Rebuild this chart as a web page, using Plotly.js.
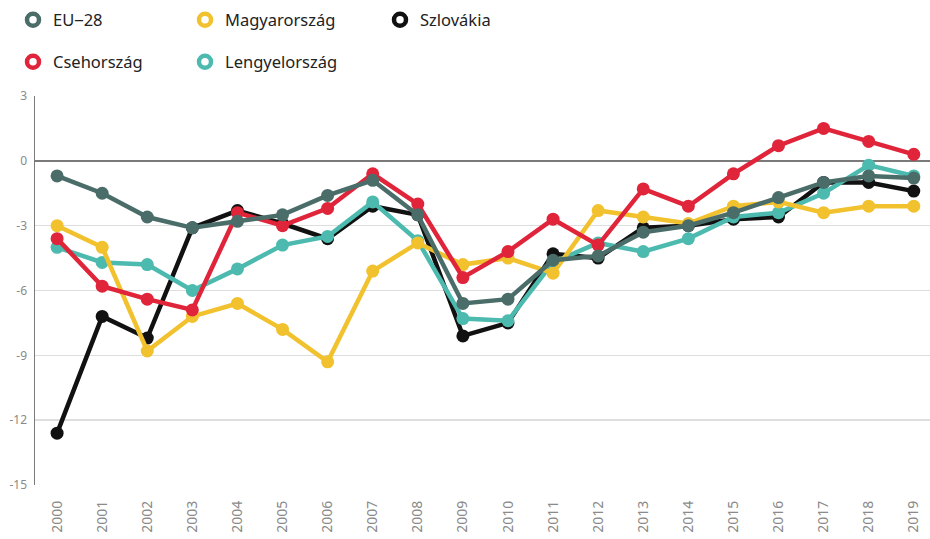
<!DOCTYPE html>
<html>
<head>
<meta charset="utf-8">
<script src="https://cdn.plot.ly/plotly-3.0.1.min.js"></script>
<style>html,body{margin:0;padding:0;background:#fff;}#chart{width:930px;height:539px;}</style>
</head>
<body>
<div id="chart"></div>
<script>
const years = ['2000','2001','2002','2003','2004','2005','2006','2007','2008','2009','2010','2011','2012','2013','2014','2015','2016','2017','2018','2019'];
const eu28 = [-0.7,-1.5,-2.6,-3.1,-2.8,-2.5,-1.6,-0.9,-2.5,-6.6,-6.4,-4.6,-4.4,-3.3,-3.0,-2.4,-1.7,-1.0,-0.7,-0.8];
const magyarorszag = [-3.0,-4.0,-8.8,-7.2,-6.6,-7.8,-9.3,-5.1,-3.8,-4.8,-4.5,-5.2,-2.3,-2.6,-2.9,-2.1,-1.9,-2.4,-2.1,-2.1];
const szlovakia = [-12.6,-7.2,-8.2,-3.1,-2.3,-2.9,-3.6,-2.1,-2.5,-8.1,-7.5,-4.3,-4.5,-3.1,-3.0,-2.7,-2.6,-1.0,-1.0,-1.4];
const csehorszag = [-3.6,-5.8,-6.4,-6.9,-2.4,-3.0,-2.2,-0.6,-2.0,-5.4,-4.2,-2.7,-3.9,-1.3,-2.1,-0.6,0.7,1.5,0.9,0.3];
const lengyelorszag = [-4.0,-4.7,-4.8,-6.0,-5.0,-3.9,-3.5,-1.9,-3.7,-7.3,-7.4,-4.7,-3.8,-4.2,-3.6,-2.6,-2.4,-1.5,-0.2,-0.7];
const yTicks = [3,0,-3,-6,-9,-12,-15];

const names = ['EU\u201228','Magyarország','Szlovákia','Csehország','Lengyelország'];
const colors = {eu:'#4a6d69', hu:'#f2c12e', sk:'#111111', cz:'#e0243a', pl:'#4cbaae'};

function line(y, color){
  return {x: years, y: y, type:'scatter', mode:'lines+markers', showlegend:false,
    line:{color:color, width:4.5}, marker:{color:color, size:13}, cliponaxis:false, hoverinfo:'skip'};
}
const traces = [
  line(szlovakia, colors.sk),
  line(lengyelorszag, colors.pl),
  line(magyarorszag, colors.hu),
  line(csehorszag, colors.cz),
  line(eu28, colors.eu)
];
const legendDefs = [
  {name:names[0], color:colors.eu, leg:'legend',  px:13,  py:20},
  {name:names[1], color:colors.hu, leg:'legend2', px:185, py:20},
  {name:names[2], color:colors.sk, leg:'legend3', px:380, py:20},
  {name:names[3], color:colors.cz, leg:'legend4', px:13,  py:62},
  {name:names[4], color:colors.pl, leg:'legend5', px:185, py:62}
];
legendDefs.forEach(d => {
  traces.push({x:[null], y:[null], type:'scatter', mode:'markers', name:d.name, legend:d.leg,
    marker:{symbol:'circle-open', size:12, color:d.color, line:{width:4.5, color:d.color}}});
});

const layout = {
  width:930, height:539,
  margin:{l:35, r:0, t:96, b:54, autoexpand:false},
  paper_bgcolor:'#fff', plot_bgcolor:'#fff',
  font:{family:'Noto Sans, sans-serif'},
  xaxis:{type:'category', range:[-0.49, 19.36], showgrid:false, zeroline:false, showline:false,
    tickangle:-90, ticks:'', tickfont:{size:14, color:'#8a8a8a'}, ticklabelstandoff:12, fixedrange:true, automargin:false},
  yaxis:{range:[-15, 3], tickvals:yTicks, ticktext:yTicks.map(String), showgrid:true, gridcolor:'#dedede', gridwidth:1.5,
    zeroline:true, zerolinecolor:'#7a7a7a', zerolinewidth:1.5, showline:true, linecolor:'#7a7a7a', linewidth:1.5,
    ticks:'', tickfont:{size:12, color:'#8a8a8a'}, ticklabelstandoff:4, fixedrange:true, automargin:false},
  showlegend:true
};
legendDefs.forEach(d => {
  layout[d.leg] = {xref:'container', yref:'container', x:d.px/930, y:1 - d.py/539, xanchor:'left', yanchor:'middle',
    bgcolor:'rgba(0,0,0,0)', font:{size:16.5, color:'#222', family:'Noto Sans, sans-serif'}, itemwidth:30};
});

Plotly.newPlot('chart', traces, layout, {displayModeBar:false, staticPlot:true});
</script>
</body>
</html>
